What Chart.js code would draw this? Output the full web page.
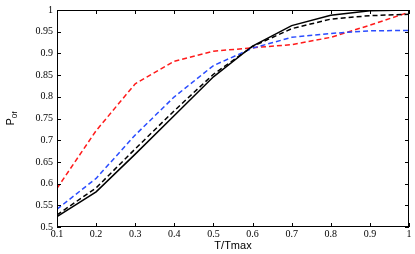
<!DOCTYPE html>
<html>
<head>
<meta charset="utf-8">
<script src="https://cdn.jsdelivr.net/npm/chart.js@4"></script>
<style>
  html, body { margin: 0; padding: 0; background: #fff; }
  #wrap { width: 415px; height: 254px; position: relative; }
</style>
</head>
<body>
<div id="wrap"><canvas id="chart"></canvas></div>
<script>
const xValues = [0.1, 0.2, 0.3, 0.4, 0.5, 0.6, 0.7, 0.8, 0.9, 1.0];
const blackSolid = [0.524, 0.581, 0.668, 0.757, 0.846, 0.917, 0.964, 0.988, 0.998, 1.0];
const blackDashed = [0.528, 0.59, 0.68, 0.768, 0.852, 0.916, 0.957, 0.979, 0.987, 0.99];
const blueDashed = [0.541, 0.612, 0.712, 0.8, 0.872, 0.912, 0.937, 0.946, 0.952, 0.953];
const redDashed = [0.589, 0.722, 0.83, 0.882, 0.905, 0.913, 0.92, 0.937, 0.965, 0.995];

const xTitle = "T/Tmax";
const yTitleMain = "P";
const yTitleSub = "0f";

function toPoints(values) {
  return values.map((y, i) => ({ x: xValues[i], y }));
}

function makeSeries(values, color, dash) {
  return {
    data: toPoints(values),
    borderColor: color,
    borderWidth: 1.5,
    borderDash: dash,
    pointRadius: 0,
    tension: 0,
    fill: false,
  };
}

// matlab style frame with inward ticks, plus axis titles
const framePlugin = {
  id: "frame",
  afterDatasetsDraw(chart) {
    const { ctx, chartArea: a, scales } = chart;
    ctx.save();
    ctx.strokeStyle = "#000";
    ctx.lineWidth = 1;
    ctx.strokeRect(a.left + 0.5, a.top + 0.5, a.right - a.left - 1, a.bottom - a.top - 1);
    const len = 4;
    ctx.beginPath();
    scales.x.ticks.forEach((t) => {
      const px = Math.round(scales.x.getPixelForValue(t.value)) + 0.5;
      ctx.moveTo(px, a.bottom);
      ctx.lineTo(px, a.bottom - len);
      ctx.moveTo(px, a.top);
      ctx.lineTo(px, a.top + len);
    });
    scales.y.ticks.forEach((t) => {
      const py = Math.round(scales.y.getPixelForValue(t.value)) + 0.5;
      ctx.moveTo(a.left, py);
      ctx.lineTo(a.left + len, py);
      ctx.moveTo(a.right, py);
      ctx.lineTo(a.right - len, py);
    });
    ctx.stroke();

    ctx.fillStyle = "#000";
    ctx.font = "11px 'Liberation Sans', Arial, sans-serif";
    ctx.textAlign = "center";
    ctx.textBaseline = "alphabetic";
    ctx.fillText(xTitle, (a.left + a.right) / 2, 249);

    ctx.translate(14, (a.top + a.bottom) / 2);
    ctx.rotate(-Math.PI / 2);
    ctx.textAlign = "left";
    const wMain = ctx.measureText(yTitleMain).width;
    ctx.font = "8px 'Liberation Sans', Arial, sans-serif";
    const wSub = ctx.measureText(yTitleSub).width;
    const start = -(wMain + wSub) / 2;
    ctx.font = "11px 'Liberation Sans', Arial, sans-serif";
    ctx.fillText(yTitleMain, start, 0);
    ctx.font = "8px 'Liberation Sans', Arial, sans-serif";
    ctx.fillText(yTitleSub, start + wMain, 3);
    ctx.restore();
  },
};

const tickFont = { family: "'Liberation Serif', 'Times New Roman', serif", size: 10 };

new Chart(document.getElementById("chart"), {
  type: "line",
  data: {
    datasets: [
      makeSeries(blackSolid, "#000000", []),
      makeSeries(blackDashed, "#000000", [5, 3]),
      makeSeries(blueDashed, "#2a4cff", [5, 3]),
      makeSeries(redDashed, "#ff1a1a", [5, 3]),
    ],
  },
  options: {
    responsive: true,
    maintainAspectRatio: false,
    animation: false,
    layout: { padding: { left: 0, right: 6, top: 9, bottom: 0 } },
    plugins: {
      legend: { display: false },
      tooltip: { enabled: false },
    },
    scales: {
      x: {
        type: "linear",
        min: 0.1,
        max: 1,
        grid: { display: false, drawTicks: false },
        border: { display: false },
        ticks: {
          stepSize: 0.1,
          color: "#000",
          font: tickFont,
          padding: 1,
          maxRotation: 0,
          callback: (v) => String(+v.toFixed(1)),
        },
        afterFit(scale) { scale.height = 27; },
      },
      y: {
        min: 0.5,
        max: 1,
        grid: { display: false, drawTicks: false },
        border: { display: false },
        ticks: {
          stepSize: 0.05,
          color: "#000",
          font: tickFont,
          padding: 4,
          callback: (v) => String(+v.toFixed(2)),
        },
        afterFit(scale) { scale.width = 57; },
      },
    },
  },
  plugins: [framePlugin],
});
</script>
</body>
</html>
